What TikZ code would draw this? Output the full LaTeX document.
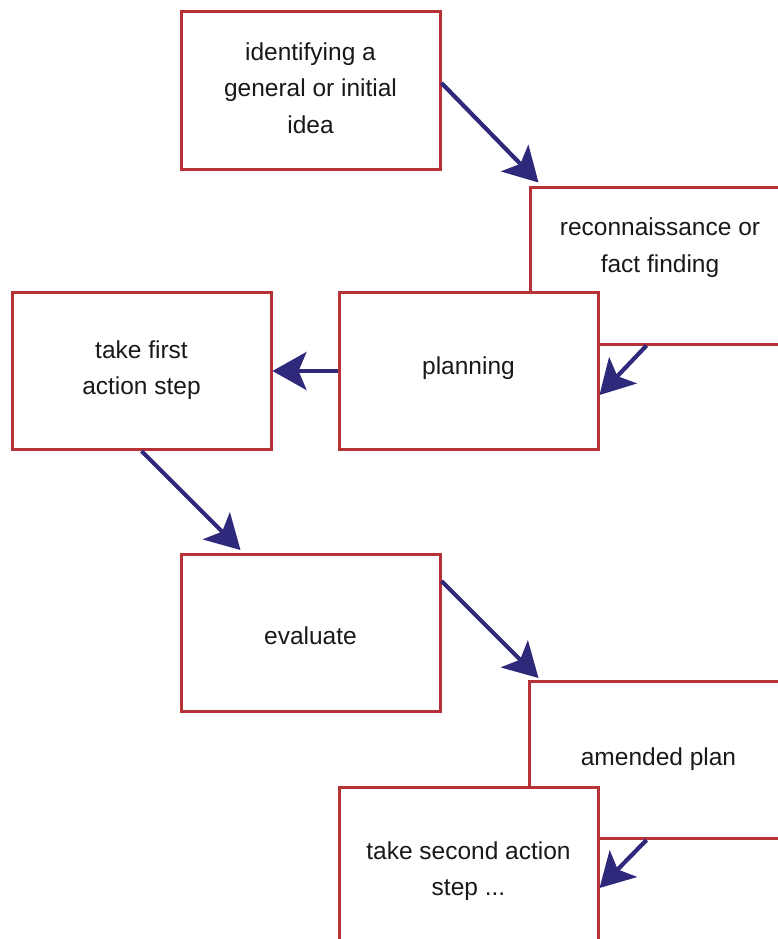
\documentclass[tikz,border=0pt]{standalone}
\usepackage{fontspec}
\setmainfont{Liberation Sans}
\usetikzlibrary{arrows.meta}
\definecolor{boxred}{RGB}{183,50,55}
\definecolor{arrowblue}{RGB}{46,41,122}
\definecolor{txt}{RGB}{25,25,25}
\begin{document}
\begin{tikzpicture}[x=1pt,y=-1pt,
  stagebox/.style={draw=boxred, line width=3pt, fill=white, rectangle,
    minimum width=259pt, minimum height=157pt, inner sep=0pt},
  stagetext/.style={text=txt, align=center, inner sep=0pt,
    font=\fontsize{24.5}{36.5}\selectfont},
  flow/.style={draw=arrowblue, line width=4.2pt,
    -{Stealth[length=34pt, width=38pt, inset=8pt, fill=arrowblue]}}
]
\useasboundingbox (0,0) rectangle (778,939);
\clip (0,0) rectangle (778,939);
\fill[white] (0,0) rectangle (778,939);

% boxes
\node[stagebox] (b1) at (310.5,90.5) {};
\node[stagebox] (b2) at (659.5,265.5) {};
\node[stagebox] (b3) at (141.5,371) {};
\node[stagebox] (b4) at (468.5,371) {};
\node[stagebox] (b5) at (310.5,633) {};
\node[stagebox] (b6) at (658.5,760) {};
\node[stagebox] (b7) at (468.5,865.5) {};

% texts
\node[stagetext] (t1) at (310.5,88) {identifying a\\general or initial\\idea};
\node[stagetext] (t2) at (660,247.5) {reconnaissance or\\fact finding};
\node[stagetext] (t3) at (141.5,370) {take first\\action step};
\node[stagetext] (t4) at (468.5,368) {planning};
\node[stagetext] (t5) at (310.5,636) {evaluate};
\node[stagetext] (t6) at (658.5,759) {amended plan};
\node[stagetext] (t7) at (468.5,871) {take second action\\step ...};

% arrows
\draw[flow] ([yshift=7.5pt]b1.east) -- ([xshift=10pt,yshift=3pt]b2.north west);
\draw[flow] ([xshift=118pt]b2.south west) -- ([yshift=-24pt]b4.east);
\draw[flow] (b4.west) -- (b3.east);
\draw[flow] (b3.south) -- ([xshift=61pt,yshift=3pt]b5.north west);
\draw[flow] ([yshift=52pt]b5.east) -- ([xshift=11pt,yshift=2pt]b6.north west);
\draw[flow] ([xshift=119pt]b6.south west) -- ([yshift=-22.5pt]b7.east);
\end{tikzpicture}
\end{document}
